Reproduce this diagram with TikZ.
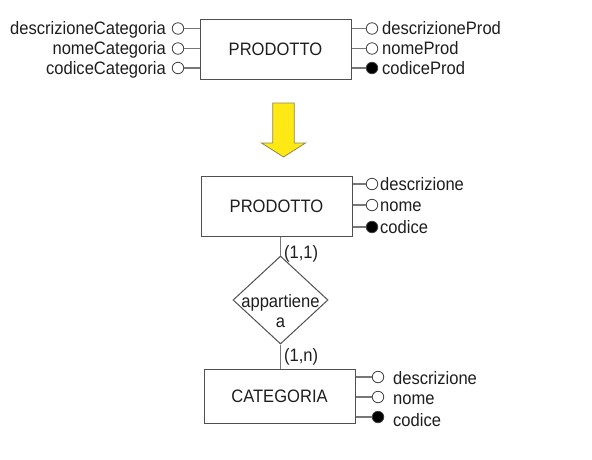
\documentclass[tikz,border=0pt]{standalone}
\usepackage{fontspec}
\setmainfont{Liberation Sans}[FakeStretch=0.92]
\usepackage{tikz}
\usetikzlibrary{shapes.geometric}
\definecolor{boxgray}{HTML}{505050}
\definecolor{linkgray}{HTML}{777777}
\definecolor{circgray}{HTML}{404040}
\definecolor{textblack}{HTML}{1E1E1E}
\definecolor{arrowyellow}{HTML}{FFE814}
\definecolor{arrowedge}{HTML}{8C8A50}
\begin{document}
\begin{tikzpicture}[x=1pt,y=-1pt,font=\fontsize{18pt}{20pt}\selectfont,text=textblack,
   entity/.style={rectangle,draw=boxgray,line width=1pt,minimum width=151pt,minimum height=60pt,inner sep=0pt},
   attr/.style={circle,draw=circgray,line width=0.8pt,minimum size=11.5pt,inner sep=0pt},
   attrlabel/.style={inner sep=0pt,text height=12.9pt,text depth=0pt},
   rel/.style={diamond,draw=boxgray,line width=1pt,minimum width=95pt,minimum height=88pt,inner sep=0pt},
   card/.style={anchor=west,inner sep=0pt,xshift=3pt,text height=12.9pt,text depth=0pt},
   link/.style={draw=linkgray,line width=1.3pt}]
   \useasboundingbox (0,0) rectangle (592,459);
   % unnormalised entity
   \node[entity] (prodA) at (275.5,49) {PRODOTTO};
   \foreach \i/\y/\name in {{1/28.5/descrizioneCategoria},{2/48.5/nomeCategoria},{3/68/codiceCategoria}} {
      \node[attr,fill=white] (lc\i) at (178,\y) {};
      \node[attrlabel,anchor=east] (lcl\i) at (166,\y) {\name};
      \draw[link] (lc\i) -- (prodA.west |- lc\i);
   }
   \foreach \i/\y/\name/\fc in {{1/28.5/descrizioneProd/white},{2/48.5/nomeProd/white},{3/68/codiceProd/black}} {
      \node[attr,fill=\fc] (rc\i) at (372,\y) {};
      \node[attrlabel,anchor=west] (rcl\i) at (382,\y) {\name};
      \draw[link] (prodA.east |- rc\i) -- (rc\i);
   }
   % transformation arrow
   \draw[arrowedge,fill=arrowyellow,line width=0.8pt] (272.7,103) -- (294.3,103) -- (294.3,143) -- (305.5,143)
      -- (283.5,157) -- (261.5,143) -- (272.7,143) -- cycle;
   % normalised schema
   \node[entity] (prodB) at (276.5,206.5) {PRODOTTO};
   \foreach \i/\y/\name/\fc in {{1/184/descrizione/white},{2/205/nome/white},{3/227/codice/black}} {
      \node[attr,fill=\fc] (pc\i) at (372,\y) {};
      \node[attrlabel,anchor=west] (pcl\i) at (380,\y) {\name};
      \draw[link] (prodB.east |- pc\i) -- (pc\i);
   }
   \node[rel,label={[align=center,yshift=-11pt,inner sep=0pt]center:appartiene\\a}] (app) at (280.5,300) {};
   \node[entity,minimum height=54pt] (cat) at (279.5,396) {CATEGORIA};
   \foreach \i/\y/\ty/\name/\fc in {{1/377/378/descrizione/white},{2/397/398/nome/white},{3/417/420/codice/black}} {
      \node[attr,fill=\fc] (cc\i) at (378,\y) {};
      \node[attrlabel,anchor=west] (ccl\i) at (393,\ty) {\name};
      \draw[link] (cat.east |- cc\i) -- (cc\i);
   }
   \draw[link] (prodB.south -| app.north) -- node[card,pos=0.8] (c11) {(1,1)} (app.north);
   \draw[link] (app.south) -- node[card,pos=0.44] (c1n) {(1,n)} (cat.north -| app.south);
\end{tikzpicture}
\end{document}
